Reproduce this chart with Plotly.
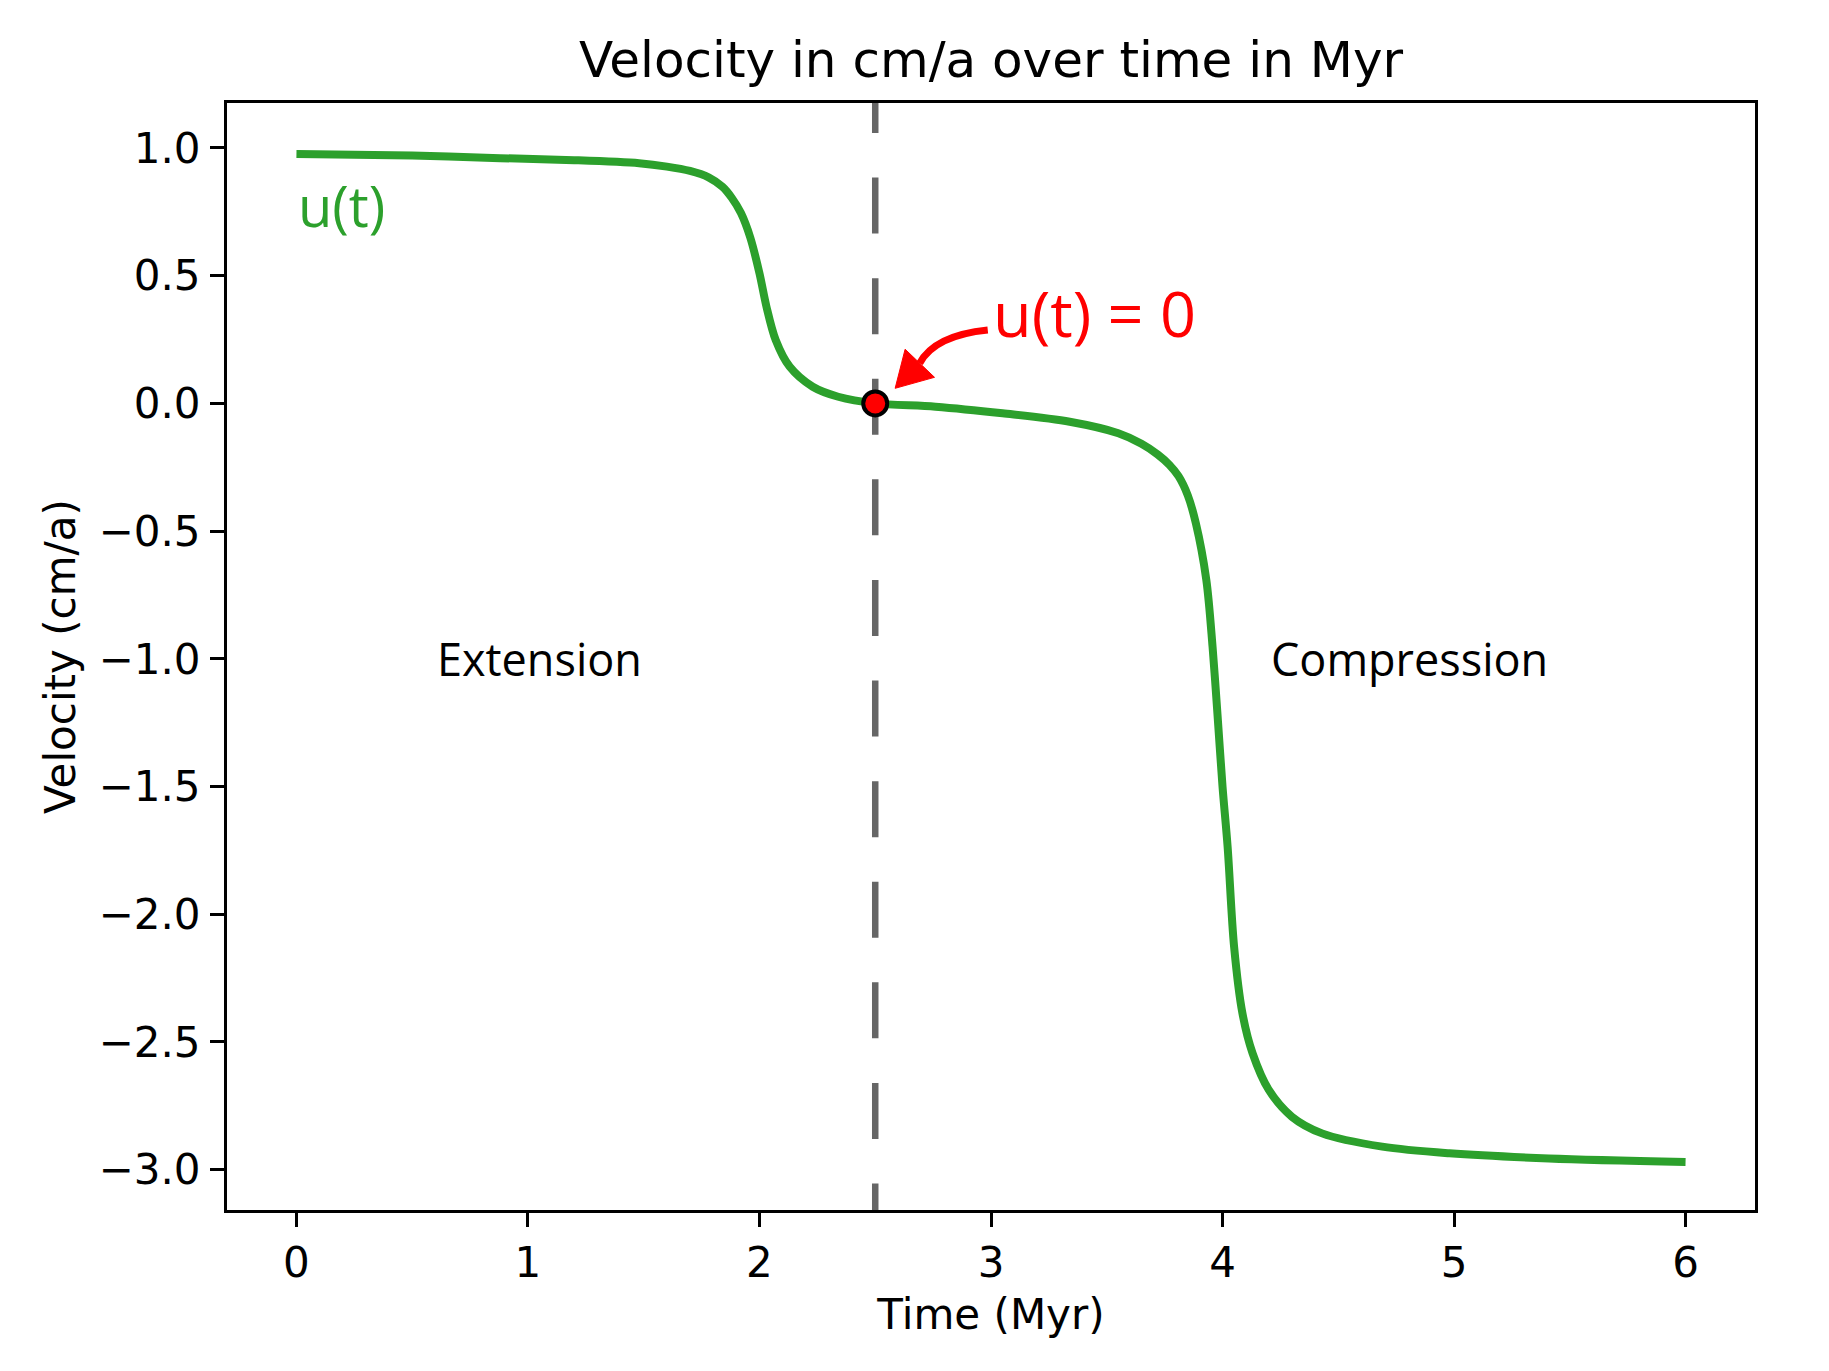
import plotly.graph_objects as go

# values
time_myr = [0.0, 0.5, 0.88, 1.2, 1.48, 1.60, 1.70, 1.78, 1.84, 1.88, 1.92, 1.96,
            2.00, 2.03, 2.07, 2.13, 2.23, 2.34, 2.50, 2.76, 3.05, 3.34, 3.55,
            3.65, 3.72, 3.77, 3.81, 3.85, 3.885, 3.93, 3.957, 3.978, 4.00, 4.022,
            4.05, 4.086, 4.13, 4.20, 4.30, 4.43, 4.69, 4.98, 5.41, 6.0]
velocity = [0.976, 0.970, 0.960, 0.952, 0.940, 0.927, 0.910, 0.885, 0.848, 0.805,
            0.745, 0.650, 0.509, 0.379, 0.248, 0.144, 0.065, 0.026, 0.0,
            -0.013, -0.039, -0.072, -0.117, -0.158, -0.20, -0.24, -0.285, -0.36,
            -0.47, -0.691, -0.953, -1.214, -1.50, -1.736, -2.127, -2.388, -2.545,
            -2.688, -2.793, -2.858, -2.910, -2.936, -2.956, -2.97]

t_zero = 2.5
x_ticks = [0, 1, 2, 3, 4, 5, 6]
y_ticks = [1.0, 0.5, 0.0, -0.5, -1.0, -1.5, -2.0, -2.5, -3.0]
y_ticktext = ["1.0", "0.5", "0.0", "\u22120.5", "\u22121.0", "\u22121.5",
              "\u22122.0", "\u22122.5", "\u22123.0"]

x_range = [-0.3, 6.3]
y_range = [-3.158, 1.176]

GREEN = "#2ca02c"
LABEL_FONT = "Open Sans"

fig = go.Figure()

# dashed line where u(t) = 0 (starts just above the frame so the dash phase matches)
fig.add_trace(go.Scatter(
    x=[t_zero, t_zero], y=[1.278, -3.3],
    mode="lines", line=dict(color="#666666", width=6.5, dash="56px,44.6px"),
    showlegend=False, hoverinfo="skip"
))

fig.add_trace(go.Scatter(
    x=time_myr, y=velocity, mode="lines",
    line=dict(color=GREEN, width=8, shape="spline", smoothing=0.9),
    showlegend=False
))

fig.add_trace(go.Scatter(
    x=[t_zero], y=[0.0], mode="markers",
    marker=dict(size=24, color="red", line=dict(color="black", width=4)),
    showlegend=False
))

# curved arrow pointing at the zero crossing
fig.add_shape(type="path", xref="x", yref="y",
              path="M 2.986,0.287 Q 2.757,0.266 2.692,0.157",
              line=dict(color="red", width=7))
fig.add_shape(type="path", xref="x", yref="y",
              path="M 2.586,0.059 L 2.629,0.212 L 2.756,0.102 Z",
              fillcolor="red", line=dict(color="red", width=1))

fig.add_annotation(x=3.0, y=0.355, xref="x", yref="y", text="u(t) = 0",
                   showarrow=False, xanchor="left", yanchor="middle",
                   font=dict(family=LABEL_FONT, size=63, color="red"))
fig.add_annotation(x=0.0, y=0.777, xref="x", yref="y", text="u(t)",
                   showarrow=False, xanchor="left", yanchor="middle",
                   font=dict(family=LABEL_FONT, size=56, color=GREEN))
fig.add_annotation(x=0.6, y=-1.0, xref="x", yref="y", text="Extension",
                   showarrow=False, xanchor="left", yanchor="middle",
                   font=dict(family=LABEL_FONT, size=45, color="black"))
fig.add_annotation(x=4.2, y=-1.0, xref="x", yref="y", text="Compression",
                   showarrow=False, xanchor="left", yanchor="middle",
                   font=dict(family=LABEL_FONT, size=45, color="black"))

axis_style = dict(
    showgrid=False, zeroline=False, showline=True, mirror=True,
    linecolor="black", linewidth=3, ticks="outside", ticklen=14,
    tickwidth=3, tickcolor="black",
    tickfont=dict(family="DejaVu Sans", size=42, color="black"),
)

fig.update_xaxes(range=x_range, tickvals=x_ticks, **axis_style,
                 title=dict(text="Time (Myr)", standoff=14,
                            font=dict(family="DejaVu Sans", size=42, color="black")))
fig.update_yaxes(range=y_range, tickvals=y_ticks, ticktext=y_ticktext,
                 ticklabelstandoff=1, **axis_style,
                 title=dict(text="Velocity (cm/a)", standoff=10,
                            font=dict(family="DejaVu Sans", size=42, color="black")))

fig.update_layout(
    width=1813, height=1355,
    margin=dict(l=219, r=66, t=95, b=153),
    paper_bgcolor="white", plot_bgcolor="white",
    title=dict(text="Velocity in cm/a over time in Myr",
               x=0.5, xref="paper", xanchor="center",
               y=1, yref="paper", yanchor="bottom", pad=dict(b=26),
               font=dict(family="DejaVu Sans", size=50, color="black")),
)

fig.write_html("out.html")
